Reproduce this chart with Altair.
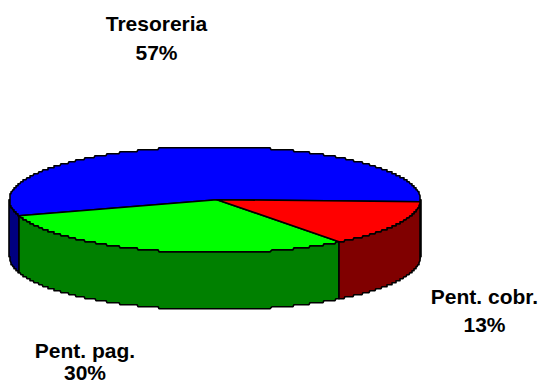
import math
import altair as alt

# Slices as printed on the chart
labels = ["Tresoreria", "Pent. pag.", "Pent. cobr."]
shares = [57, 30, 13]
# Sweep of each slice as it appears on the tilted disc (degrees, counter-clockwise)
sweeps = [200.5, 109.5, 50.0]
start_angle = -3.0
top_colors = ["#0000FF", "#00FF00", "#FF0000"]
side_colors = ["#000080", "#008000", "#800000"]

# Label anchors in the chart's own coordinates (centre of the disc = 0, 0)
label_lon = [-58.5, -130, 269.5]
label_lat_name = [174.7, -152.3, -98.3]
label_lat_pct = [145.7, -173.8, -126.3]

# Disc shape
RX, RY, DEPTH = 205.5, 53.0, 57.0
APEX = [2, 0]
STEP = 2.0


def rim(angle):
    t = math.radians(angle)
    return [round(RX * math.cos(t)), round(RY * math.sin(t) / STEP) * STEP]


def feature(points, fill):
    points = points + [points[0]]
    return {
        "type": "Feature",
        "properties": {"fill": fill},
        "geometry": {"type": "Polygon", "coordinates": [points]},
    }


def arc(a0, a1):
    n = max(2, int(abs(a1 - a0) * 3))
    return [rim(a0 + (a1 - a0) * i / n) for i in range(n + 1)]


tops, sides = [], []
a = start_angle
for sweep, top, side in zip(sweeps, top_colors, side_colors):
    b = a + sweep
    tops.append(feature([APEX] + arc(a, b), top))
    # visible part of the wall: the front half of the rim
    for lo, hi in ((a, b), (a + 360, b + 360), (a - 360, b - 360)):
        v0, v1 = max(lo, 180), min(hi, 360)
        if v1 > v0:
            edge = arc(v0, v1)
            sides.append(feature(edge + [[x, y - DEPTH] for x, y in reversed(edge)], side))
    a = b

projection = alt.Projection(type="identity", reflectY=True, scale=1, translate=[207, 191.7])

shapes = (
    alt.Chart(alt.Data(values=sides + tops))
    .mark_geoshape(stroke="black", strokeWidth=1.6, strokeJoin="round")
    .encode(fill=alt.Fill("properties.fill:N", scale=None))
    .project(**projection.to_dict())
)

rows = []
for name, share, lon, lat_n, lat_p in zip(labels, shares, label_lon, label_lat_name, label_lat_pct):
    rows.append({"t": name, "lon": lon, "lat": lat_n})
    rows.append({"t": f"{share}%", "lon": lon, "lat": lat_p})

texts = (
    alt.Chart(alt.Data(values=rows))
    .mark_text(font="Liberation Sans", fontWeight="bold", fontSize=21, color="black",
               align="center", baseline="middle")
    .encode(longitude="lon:Q", latitude="lat:Q", text="t:N")
    .project(**projection.to_dict())
)

chart = (
    alt.layer(shapes, texts)
    .properties(width=532, height=374, padding=0, background="white")
    .configure_view(stroke=None)
)
chart.save("out.html", embed_options={"renderer": "svg", "actions": False})
